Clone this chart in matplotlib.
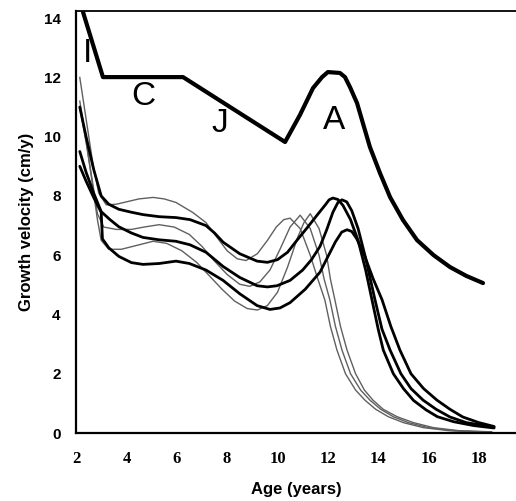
import matplotlib
matplotlib.use("Agg")
import matplotlib.pyplot as plt

# ICJA model envelope (thick)
icja_age = [2.28, 3.07, 6.25, 10.30, 10.89, 11.41, 11.77, 12.0, 12.48, 12.68, 12.88, 13.16,
            13.39, 13.67, 14.07, 14.47, 14.98, 15.54, 16.2, 16.85, 17.5, 18.16]
icja_vel = [14.2, 12.01, 12.01, 9.82, 10.73, 11.64, 12.01, 12.18, 12.15, 12.01, 11.67, 11.13,
            10.46, 9.65, 8.77, 7.96, 7.19, 6.51, 6.0, 5.6, 5.3, 5.06]

# individual curves, thick (black)
t1_age = [2.15, 2.4, 2.7, 3.0, 3.3, 3.7, 4.2, 4.66, 5.3, 5.97, 6.53, 7.16, 7.5, 7.84, 8.5,
          9.19, 9.6, 10.0, 10.4, 10.77, 11.2, 11.57, 11.9, 12.05, 12.2, 12.4, 12.6, 12.9,
          13.2, 13.5, 13.75, 14.0, 14.2, 14.6, 15.0, 15.4, 15.9, 16.35, 17.0, 17.8, 18.6]
t1_vel = [11.0, 10.0, 8.9, 8.0, 7.72, 7.55, 7.45, 7.37, 7.3, 7.27, 7.2, 7.0, 6.75, 6.44, 6.05,
          5.8, 5.76, 5.85, 6.1, 6.5, 6.95, 7.35, 7.7, 7.87, 7.93, 7.88, 7.68, 7.2,
          6.5, 5.5, 4.5, 3.5, 2.8, 2.0, 1.5, 1.1, 0.78, 0.55, 0.38, 0.25, 0.17]

t2_age = [2.15, 2.4, 2.7, 3.0, 3.35, 3.7, 4.2, 4.66, 5.3, 5.97, 6.53, 7.16, 7.84, 8.5, 9.19,
          9.6, 9.98, 10.5, 11.0, 11.35, 11.69, 11.95, 12.2, 12.4, 12.56, 12.75, 12.95, 13.2,
          13.5, 13.87, 14.15, 14.47, 14.9, 15.3, 15.78, 16.3, 16.85, 17.5, 18.6]
t2_vel = [9.5, 8.8, 8.1, 7.47, 7.2, 6.96, 6.75, 6.6, 6.52, 6.47, 6.35, 6.1, 5.62, 5.25, 4.97,
          4.93, 4.97, 5.15, 5.5, 5.85, 6.3, 6.85, 7.45, 7.78, 7.87, 7.8, 7.5, 6.9,
          5.9, 4.5, 3.5, 2.8, 2.0, 1.5, 1.11, 0.8, 0.54, 0.35, 0.2]

t3_age = [2.15, 2.4, 2.7, 3.0, 3.05, 3.3, 3.7, 4.2, 4.66, 5.3, 5.97, 6.5, 7.16, 7.84, 8.5,
          9.19, 9.7, 10.1, 10.5, 11.1, 11.69, 12.0, 12.3, 12.55, 12.76, 12.95, 13.15, 13.45,
          13.8, 14.15, 14.5, 14.86, 15.3, 15.8, 16.33, 16.85, 17.36, 18.0, 18.6]
t3_vel = [9.0, 8.5, 7.95, 7.45, 6.55, 6.25, 5.96, 5.75, 5.69, 5.72, 5.8, 5.72, 5.5, 5.15, 4.7,
          4.3, 4.17, 4.22, 4.4, 4.85, 5.43, 5.95, 6.45, 6.78, 6.86, 6.8, 6.55, 6.0,
          5.2, 4.5, 3.6, 2.8, 2.0, 1.5, 1.11, 0.8, 0.54, 0.35, 0.22]

# individual curves, thin (grey)
ga_age = [2.15, 2.4, 2.65, 2.9, 3.2, 3.6, 4.0, 4.5, 5.06, 5.5, 5.97, 6.64, 7.16, 7.6, 8.0,
          8.4, 8.75, 9.2, 9.6, 9.95, 10.25, 10.5, 10.9, 11.3, 11.6, 11.88, 12.1, 12.36,
          12.7, 13.1, 13.47, 13.9, 14.4, 15.0, 15.8, 16.8, 18.5]
ga_vel = [12.0, 10.6, 9.2, 8.1, 7.7, 7.72, 7.8, 7.9, 7.95, 7.9, 7.78, 7.44, 7.1, 6.6, 6.15,
          5.88, 5.82, 6.05, 6.5, 6.95, 7.2, 7.25, 6.9, 6.0, 5.2, 4.49, 3.6, 2.8,
          2.0, 1.45, 1.11, 0.8, 0.55, 0.35, 0.18, 0.08, 0.02]

gb_age = [2.15, 2.4, 2.65, 2.85, 3.1, 3.6, 4.2, 4.7, 5.3, 5.9, 6.5, 7.0, 7.5, 8.0, 8.5,
          8.9, 9.3, 9.7, 10.1, 10.5, 10.9, 11.3, 11.65, 11.85, 12.08, 12.3, 12.56, 12.9,
          13.3, 13.67, 14.1, 14.6, 15.2, 16.0, 17.0, 18.5]
gb_vel = [11.0, 9.8, 8.5, 7.4, 6.95, 6.87, 6.87, 6.95, 7.03, 6.95, 6.7, 6.3, 5.8, 5.35, 5.02,
          4.95, 5.1, 5.5, 6.2, 6.95, 7.35, 6.9, 6.0, 5.2, 4.49, 3.6, 2.8, 2.0,
          1.45, 1.11, 0.8, 0.55, 0.35, 0.18, 0.08, 0.03]

gc_age = [2.15, 2.4, 2.65, 2.85, 3.0, 3.3, 3.8, 4.5, 5.06, 5.6, 6.2, 6.8, 7.3, 7.8, 8.3,
          8.8, 9.2, 9.6, 10.0, 10.4, 10.8, 11.05, 11.3, 11.65, 11.95, 12.1, 12.28, 12.5,
          12.76, 13.1, 13.45, 13.79, 14.2, 14.75, 15.4, 16.2, 17.2, 18.5]
gc_vel = [11.2, 9.9, 8.4, 7.2, 6.5, 6.2, 6.2, 6.35, 6.47, 6.4, 6.15, 5.75, 5.3, 4.85, 4.45,
          4.2, 4.15, 4.3, 4.75, 5.6, 6.6, 7.1, 7.4, 6.9, 6.0, 5.2, 4.49, 3.6,
          2.8, 2.0, 1.45, 1.11, 0.8, 0.55, 0.35, 0.18, 0.08, 0.04]

phase_labels = ["I", "C", "J", "A"]
phase_age = [2.44, 4.66, 7.72, 12.24]
phase_vel = [12.82, 11.37, 10.43, 10.56]

x_ticks = [2, 4, 6, 8, 10, 12, 14, 16, 18]
y_ticks = [0, 2, 4, 6, 8, 10, 12, 14]

fig = plt.figure(figsize=(5.16, 5.01), dpi=100)
ax = fig.add_axes([0.1473, 0.1357, 0.8527, 0.8423])

for a, v in [(ga_age, ga_vel), (gb_age, gb_vel), (gc_age, gc_vel)]:
    ax.plot(a, v, color="#606060", lw=1.0, solid_joinstyle="round")
for a, v in [(t1_age, t1_vel), (t2_age, t2_vel), (t3_age, t3_vel)]:
    ax.plot(a, v, color="black", lw=2.0, solid_joinstyle="round", solid_capstyle="round")
ax.plot(icja_age, icja_vel, color="black", lw=3.0, solid_joinstyle="round", solid_capstyle="round")

for lab, a, v in zip(phase_labels, phase_age, phase_vel):
    ax.text(a, v, lab, fontsize=24, family="Liberation Sans", ha="center", va="center")

ax.set_xlim(2, 19.47)
ax.set_ylim(0, 14.24)
ax.set_xticks(x_ticks)
ax.set_yticks(y_ticks)
ax.tick_params(axis="both", length=0)
ax.tick_params(axis="x", pad=13)
ax.tick_params(axis="y", pad=11)
for t in ax.get_xticklabels():
    t.set_fontfamily("Liberation Serif")
    t.set_fontweight("bold")
    t.set_fontsize(12)
for t in ax.get_yticklabels():
    t.set_fontfamily("Liberation Sans")
    t.set_fontweight("bold")
    t.set_fontsize(11)

ax.spines["right"].set_visible(False)
ax.spines["left"].set_linewidth(1.6)
ax.spines["bottom"].set_linewidth(1.6)
ax.spines["top"].set_linewidth(1.3)

ax.set_xlabel("Age (years)", fontsize=12, fontweight="bold", family="Liberation Sans", labelpad=11)
ax.set_ylabel("Growth velocity (cm/y)", fontsize=12, fontweight="bold", family="Liberation Sans", labelpad=7)

fig.savefig("out.png", dpi=100)
